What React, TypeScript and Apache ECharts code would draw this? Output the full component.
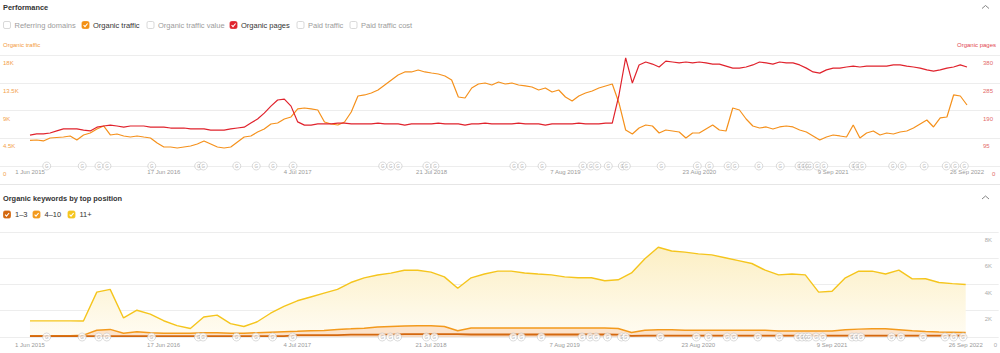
import React, { useEffect, useRef } from "react";
import * as echarts from "echarts";

// ---------- data ----------
const xTickLabels = ["1 Jun 2015", "17 Jun 2016", "4 Jul 2017", "21 Jul 2018", "7 Aug 2019", "23 Aug 2020", "9 Sep 2021", "26 Sep 2022"];
const SAMPLES_PER_LABEL = 20; // samples between two date labels
const trafficTicks = ["0", "4.5K", "9K", "13.5K", "18K"];
const pagesTicks = ["0", "95", "190", "285", "380"];
const keywordTicks = ["0", "2K", "4K", "6K", "8K"];

const organicTraffic = [
  4140, 4220, 4060, 4540, 4620, 4700, 4870, 4220, 5030, 5350,
  6000, 6490, 5030, 5190, 4870, 4700, 4870, 4700, 4540, 3730,
  3080, 3080, 2920, 3080, 3240, 3570, 4060, 3570, 3080, 2920,
  3080, 3890, 4700, 4870, 5510, 6000, 6810, 6970, 7620, 7950,
  9250, 9410, 9250, 9080, 7140, 6810, 6650, 7140, 8760, 11350,
  11520, 11840, 12330, 13140, 13950, 14760, 15250, 15250, 15570, 15250,
  15080, 14920, 14600, 13950, 11190, 11030, 12650, 13300, 13460, 13140,
  13620, 13300, 13460, 13140, 12980, 12810, 12330, 12650, 12000, 12330,
  11190, 10540, 11350, 11840, 12170, 12650, 12980, 13300, 10220, 5840,
  5190, 6160, 6650, 6490, 5350, 5840, 5680, 5510, 4540, 5350,
  5350, 6000, 6650, 5840, 5680, 9410, 9080, 7620, 6490, 6160,
  6330, 6000, 6330, 6490, 6330, 5840, 5510, 4870, 4220, 4700,
  5030, 4870, 4700, 6650, 4540, 5350, 5680, 5030, 5350, 5190,
  5510, 5680, 6160, 6810, 7460, 6330, 7790, 7950, 11520, 11350,
  9890,
];

const organicPages = [
  106, 110, 110, 113, 120, 127, 127, 127, 123, 120,
  133, 137, 140, 137, 133, 137, 137, 137, 133, 133,
  133, 130, 130, 130, 127, 127, 127, 123, 123, 123,
  127, 130, 133, 147, 161, 181, 205, 226, 229, 205,
  151, 140, 140, 144, 144, 144, 147, 147, 144, 144,
  144, 144, 147, 144, 144, 144, 140, 144, 144, 144,
  144, 147, 144, 144, 144, 140, 144, 144, 147, 144,
  144, 144, 144, 147, 144, 144, 144, 140, 144, 144,
  144, 144, 147, 144, 144, 144, 147, 147, 243, 370,
  284, 346, 356, 349, 339, 359, 356, 353, 356, 353,
  356, 353, 349, 349, 342, 335, 335, 339, 346, 356,
  353, 349, 356, 353, 353, 346, 335, 322, 318, 329,
  335, 335, 339, 342, 339, 342, 342, 342, 342, 346,
  346, 342, 339, 335, 329, 325, 329, 335, 339, 346,
  339,
];

// keywords are sampled every 2nd sample
const KW_STEP = 2;
const kwTop3 = [
  70, 70, 70, 70, 70, 70, 70, 70, 70, 70,
  70, 70, 70, 70, 70, 70, 70, 70, 70, 70,
  140, 140, 140, 140, 180, 180, 180, 180, 220, 220,
  220, 220, 220, 190, 190, 190, 190, 190, 190, 190,
  190, 190, 190, 190, 180, 90, 110, 110, 110, 110,
  110, 110, 110, 110, 110, 110, 110, 110, 110, 110,
  110, 110, 110, 110, 110, 110, 110, 110, 110, 110,
  110,
];
const kwTop10 = [
  30, 30, 30, 30, 70, 440, 510, 220, 330, 250,
  220, 220, 220, 250, 250, 220, 220, 250, 290, 330,
  290, 330, 360, 440, 440, 490, 580, 620, 620, 630,
  630, 580, 250, 490, 490, 490, 490, 490, 490, 490,
  490, 490, 490, 490, 470, 250, 400, 440, 450, 400,
  400, 400, 400, 400, 400, 400, 350, 350, 350, 350,
  350, 440, 490, 520, 520, 440, 360, 310, 270, 250,
  230,
];
const kw11plus = [
  1130, 1130, 1130, 1130, 1080, 2910, 3050, 1160, 1640, 1420,
  950, 580, 360, 1200, 1350, 730, 510, 840, 1450, 1930,
  2330, 2580, 2840, 3050, 3530, 3830, 3960, 4070, 4250, 4240,
  4090, 3780, 3240, 3830, 4120, 4340, 4340, 4200, 4120, 4050,
  3900, 3830, 3830, 3610, 3710, 4540, 5450, 6290, 5990, 5960,
  5820, 5750, 5530, 5310, 5090, 4580, 4270, 4340, 4270, 2960,
  3030, 3960, 4410, 4390, 4170, 4540, 3960, 4020, 3770, 3710,
  3660,
];

// Google update markers (in sample units)
const googleUpdates = [
  2.5, 7.8, 10.3, 11.5, 18.2, 25.2, 25.9, 30.9, 33.8, 36.3, 39.3,
  52.7, 53.9, 55.0, 59.3, 60.5, 72.3, 73.5, 76.5, 82.6, 83.8, 84.7,
  86.4, 88.5, 89.1, 94.3, 99.7, 101.5, 104.3, 105.3, 108.9, 112.1,
  114.9, 115.5, 116.1, 116.5, 117.6, 118.6, 123.0, 123.6, 124.3,
  128.9, 130.3, 133.6, 136.9, 138.2, 139.6,
];

const topLegend = [
  { label: "Referring domains", checked: false, color: "" },
  { label: "Organic traffic", checked: true, color: "#f39014" },
  { label: "Organic traffic value", checked: false, color: "" },
  { label: "Organic pages", checked: true, color: "#e0242e" },
  { label: "Paid traffic", checked: false, color: "" },
  { label: "Paid traffic cost", checked: false, color: "" },
];
const bottomLegend = [
  { label: "1–3", color: "#d4680f" },
  { label: "4–10", color: "#f39a1d" },
  { label: "11+", color: "#f5c51d" },
];

// ---------- layout ----------
const W = 1000;
const PLOT_LEFT = 30;
const PLOT_RIGHT = 967;
const FONT = "Liberation Sans, Arial, sans-serif";
const topLegendX = [3.5, 82, 147, 230, 297, 350];
const bottomLegendX = [3.5, 33, 68];

function checkbox(x: number, yc: number, checked: boolean, color: string) {
  const y = yc - 3.5;
  const els: any[] = [
    {
      type: "rect",
      shape: { x, y, width: 7, height: 7, r: 1.5 },
      style: { fill: checked ? color : "#fff", stroke: checked ? color : "#cfcfcf", lineWidth: 0.8 },
    },
  ];
  if (checked) {
    els.push({
      type: "polyline",
      shape: { points: [[x + 1.6, y + 3.7], [x + 3, y + 5.1], [x + 5.6, y + 2]] },
      style: { stroke: "#fff", lineWidth: 1.1, fill: null },
    });
  }
  return els;
}

export default function App() {
  const ref = useRef<HTMLDivElement>(null);

  useEffect(() => {
    document.body.style.margin = "0";
    if (!ref.current) return;
    const chart = echarts.init(ref.current, undefined, { renderer: "svg" });

    const span = (xTickLabels.length - 1) * SAMPLES_PER_LABEL;
    const pxPerUnit = (PLOT_RIGHT - PLOT_LEFT) / span;
    const xMin = -PLOT_LEFT / pxPerUnit;
    const xMax = span + (W - PLOT_RIGHT) / pxPerUnit;
    const tickValues = xTickLabels.map((_, i) => i * SAMPLES_PER_LABEL);

    // cumulative (stacked) keyword totals
    const cum3 = kwTop3.map((v, j) => [j * KW_STEP, v]);
    const cum10 = kwTop10.map((v, j) => [j * KW_STEP, v + kwTop3[j]]);
    const cum11 = kw11plus.map((v, j) => [j * KW_STEP, v + kwTop10[j] + kwTop3[j]]);

    const xAxisBase = (gridIndex: number, margin: number) => ({
      type: "value",
      gridIndex,
      min: xMin,
      max: xMax,
      axisLine: { show: false },
      axisTick: { show: false },
      splitLine: { show: false },
      axisLabel: {
        customValues: tickValues,
        formatter: (v: number) => xTickLabels[Math.round(v / SAMPLES_PER_LABEL)] ?? "",
        color: "#9a9a9a",
        fontSize: 6,
        margin,
        showMinLabel: true,
        showMaxLabel: true,
      },
    });

    const yLabel = (color: string, margin: number, ticks: string[], step: number, shiftZero: boolean) => ({
      inside: true,
      margin,
      align: "left",
      verticalAlign: "top",
      lineHeight: 16,
      fontSize: 6,
      color,
      showMinLabel: true,
      formatter: (v: number) => {
        const t = ticks[Math.round(v / step)] ?? "";
        return shiftZero && v === 0 ? "{z|" + t + "}" : t;
      },
      rich: { z: { padding: [0, 0, 0, 9], fontSize: 6, color, lineHeight: 16 } },
    });

    const gMarkers = (xAxisIndex: number, yAxisIndex: number) => ({
      type: "scatter",
      xAxisIndex,
      yAxisIndex,
      data: googleUpdates.map((p) => [p, 0]),
      symbol: "circle",
      symbolSize: 8,
      itemStyle: { color: "#fff", borderColor: "#c6c6c6", borderWidth: 0.8 },
      label: { show: true, position: "inside", formatter: "G", fontSize: 4.5, color: "#9a9a9a" },
      emphasis: { disabled: true },
      z: 6,
      silent: true,
    });

    const graphics: any[] = [
      { type: "text", x: 3, y: 7, style: { text: "Performance", fontSize: 7.4, fontWeight: "bold", fill: "#333", fontFamily: FONT, verticalAlign: "middle" } },
      { type: "polyline", shape: { points: [[982, 8.5], [985.5, 5.5], [989, 8.5]] }, style: { stroke: "#777", lineWidth: 0.9, fill: null } },
      { type: "text", x: 3, y: 45, style: { text: "Organic traffic", fontSize: 6, fill: "#f39a3a", fontFamily: FONT, verticalAlign: "middle" } },
      { type: "text", x: 996, y: 45, style: { text: "Organic pages", fontSize: 6, fill: "#e2474e", fontFamily: FONT, verticalAlign: "middle", align: "right" } },
      { type: "line", shape: { x1: 0, y1: 184.5, x2: 1000, y2: 184.5 }, style: { stroke: "#e6e6e6", lineWidth: 1 } },
      { type: "text", x: 3, y: 198, style: { text: "Organic keywords by top position", fontSize: 7.4, fontWeight: "bold", fill: "#333", fontFamily: FONT, verticalAlign: "middle" } },
      { type: "polyline", shape: { points: [[982, 199], [985.5, 196], [989, 199]] }, style: { stroke: "#777", lineWidth: 0.9, fill: null } },
    ];
    topLegend.forEach((item, i) => {
      const x = topLegendX[i];
      graphics.push(...checkbox(x, 25, item.checked, item.color));
      graphics.push({
        type: "text",
        x: x + 11,
        y: 25,
        style: { text: item.label, fontSize: 7.5, fill: item.checked ? "#333" : "#9c9c9c", fontFamily: FONT, verticalAlign: "middle" },
      });
    });
    bottomLegend.forEach((item, i) => {
      const x = bottomLegendX[i];
      graphics.push(...checkbox(x, 214.5, true, item.color));
      graphics.push({
        type: "text",
        x: x + 11.5,
        y: 214.5,
        style: { text: item.label, fontSize: 7.5, fill: "#333", fontFamily: FONT, verticalAlign: "middle" },
      });
    });

    chart.setOption({
      animation: false,
      backgroundColor: "#fff",
      textStyle: { fontFamily: FONT },
      grid: [
        { left: 0, right: 0, top: 55, height: 111 },
        { left: 0, right: 0, top: 232, height: 110 },
      ],
      xAxis: [xAxisBase(0, 3), xAxisBase(1, 4.5)],
      yAxis: [
        {
          type: "value",
          gridIndex: 0,
          position: "left",
          min: 0,
          max: 18000,
          interval: 4500,
          axisLine: { show: false },
          axisTick: { show: false },
          splitLine: { lineStyle: { color: "#ededed", width: 1 } },
          axisLabel: yLabel("#f3a04a", 3, trafficTicks, 4500, false),
        },
        {
          type: "value",
          gridIndex: 0,
          position: "right",
          min: 0,
          max: 380,
          interval: 95,
          axisLine: { show: false },
          axisTick: { show: false },
          splitLine: { show: false },
          axisLabel: yLabel("#e36a6a", 17, pagesTicks, 95, true),
        },
        {
          type: "value",
          gridIndex: 1,
          position: "right",
          min: 0,
          max: 8000,
          interval: 2000,
          axisLine: { show: false },
          axisTick: { show: false },
          splitLine: { lineStyle: { color: "#ededed", width: 1 } },
          axisLabel: yLabel("#ababab", 14, keywordTicks, 2000, true),
        },
      ],
      series: [
        {
          name: "Organic traffic",
          type: "line",
          xAxisIndex: 0,
          yAxisIndex: 0,
          data: organicTraffic.map((v, i) => [i, v]),
          showSymbol: false,
          color: "#f5911c",
          lineStyle: { width: 1.2 },
          z: 3,
        },
        {
          name: "Organic pages",
          type: "line",
          xAxisIndex: 0,
          yAxisIndex: 1,
          data: organicPages.map((v, i) => [i, v]),
          showSymbol: false,
          color: "#e0232d",
          lineStyle: { width: 1.2 },
          z: 4,
        },
        gMarkers(0, 0),
        {
          name: "11+",
          type: "line",
          xAxisIndex: 1,
          yAxisIndex: 2,
          data: cum11,
          showSymbol: false,
          color: "#f5c51d",
          lineStyle: { width: 1.4 },
          areaStyle: {
            opacity: 1,
            color: new echarts.graphic.LinearGradient(0, 0, 0, 1, [
              { offset: 0, color: "#fcefc4" },
              { offset: 1, color: "#fffcf3" },
            ]),
          },
          z: 2,
        },
        {
          name: "4–10",
          type: "line",
          xAxisIndex: 1,
          yAxisIndex: 2,
          data: cum10,
          showSymbol: false,
          color: "#f39a1d",
          lineStyle: { width: 1.5 },
          areaStyle: { opacity: 1, color: "#fce3cb" },
          z: 3,
        },
        {
          name: "1–3",
          type: "line",
          xAxisIndex: 1,
          yAxisIndex: 2,
          data: cum3,
          showSymbol: false,
          color: "#d4680f",
          lineStyle: { width: 1.8 },
          areaStyle: { opacity: 1, color: "#f6d9c0" },
          z: 4,
        },
        gMarkers(1, 2),
      ],
      graphic: graphics,
    });

    return () => chart.dispose();
  }, []);

  return <div ref={ref} style={{ width: 1000, height: 353 }} />;
}
